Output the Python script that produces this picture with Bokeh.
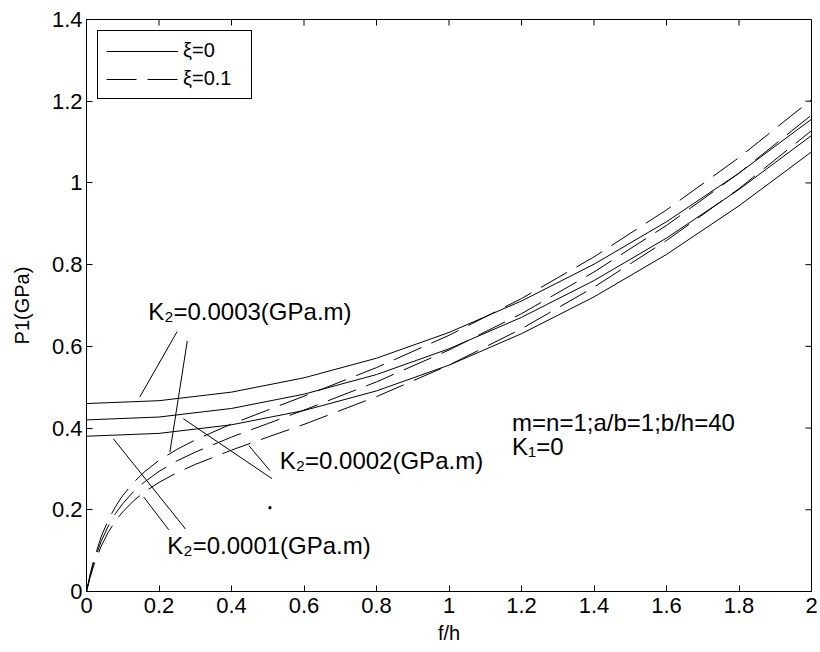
from bokeh.plotting import figure
from bokeh.models import Range1d, FixedTicker, Legend, LegendItem
from bokeh.core.properties import value
from bokeh.embed import file_html
from bokeh.resources import INLINE

# ---- data ----
x_ticks = [0, 0.2, 0.4, 0.6, 0.8, 1, 1.2, 1.4, 1.6, 1.8, 2]
x_tick_labels = ["0", "0.2", "0.4", "0.6", "0.8", "1", "1.2", "1.4", "1.6", "1.8", "2"]
y_ticks = [0, 0.2, 0.4, 0.6, 0.8, 1, 1.2, 1.4]
y_tick_labels = ["0", "0.2", "0.4", "0.6", "0.8", "1", "1.2", "1.4"]

# xi = 0 (solid)
x_solid = [0, 0.2, 0.4, 0.6, 0.8, 1.0, 1.2, 1.4, 1.6, 1.8, 2.0]
solid_k3 = [0.460, 0.467, 0.488, 0.523, 0.571, 0.634, 0.711, 0.801, 0.905, 1.024, 1.156]
solid_k2 = [0.420, 0.427, 0.448, 0.483, 0.531, 0.594, 0.671, 0.761, 0.865, 0.984, 1.116]
solid_k1 = [0.380, 0.387, 0.408, 0.443, 0.491, 0.554, 0.631, 0.721, 0.825, 0.944, 1.076]

# xi = 0.1 (dashed)
x_dashed = [0, 0.01, 0.02, 0.04, 0.06, 0.08, 0.1, 0.13, 0.16, 0.2, 0.25, 0.3,
            0.4, 0.5, 0.6, 0.8, 1.0, 1.2, 1.4, 1.6, 1.8, 2.0]
dashed_k3 = [0, 0.042, 0.077, 0.133, 0.175, 0.208, 0.235, 0.267, 0.293, 0.321, 0.348, 0.371,
             0.410, 0.444, 0.478, 0.548, 0.627, 0.717, 0.819, 0.934, 1.062, 1.204]
dashed_k2 = [0, 0.039, 0.071, 0.122, 0.160, 0.191, 0.215, 0.245, 0.268, 0.294, 0.320, 0.341,
             0.378, 0.411, 0.444, 0.513, 0.591, 0.680, 0.782, 0.896, 1.024, 1.166]
dashed_k1 = [0, 0.035, 0.064, 0.110, 0.145, 0.173, 0.195, 0.222, 0.244, 0.267, 0.291, 0.311,
             0.346, 0.378, 0.409, 0.477, 0.554, 0.643, 0.745, 0.859, 0.986, 1.128]

# annotations
note_text = ["K\u2082=0.0003(GPa.m)", "K\u2082=0.0002(GPa.m)", "K\u2082=0.0001(GPa.m)",
             "m=n=1;a/b=1;b/h=40", "K\u2081=0"]
note_x = [0.170, 0.533, 0.223, 1.174, 1.174]
note_y = [0.685, 0.321, 0.113, 0.414, 0.355]

lead_x0 = [0.147, 0.278, 0.267, 0.448, 0.074, 0.158]
lead_y0 = [0.476, 0.613, 0.423, 0.357, 0.374, 0.231]
lead_x1 = [0.250, 0.230, 0.512, 0.506, 0.273, 0.227]
lead_y1 = [0.636, 0.341, 0.276, 0.296, 0.153, 0.151]

stray_x = [0.506]
stray_y = [0.205]

X_MIN, X_MAX = 0, 2
Y_MIN, Y_MAX = 0, 1.4

FONT = "Liberation Sans"
DASH = "30 11"

p = figure(width=818, height=650, x_range=Range1d(X_MIN, X_MAX), y_range=Range1d(Y_MIN, Y_MAX),
           output_backend="svg", toolbar_location=None,
           min_border_left=86, min_border_right=7, min_border_top=19, min_border_bottom=59)
p.background_fill_color = "white"
p.border_fill_color = "white"
p.xgrid.visible = False
p.ygrid.visible = False
p.outline_line_color = "black"
p.outline_line_width = 1
p.outline_line_alpha = 1


def style_axis(ax, ticks, labels):
    ax.ticker = FixedTicker(ticks=ticks)
    ax.major_label_overrides = {t: l for t, l in zip(ticks, labels)}
    ax.major_tick_in = 6
    ax.major_tick_out = 0
    ax.minor_tick_line_color = None
    ax.axis_line_color = "black"
    ax.major_tick_line_color = "black"
    ax.major_label_text_font = FONT
    ax.major_label_text_color = "black"
    ax.major_label_text_font_size = "22px"
    ax.axis_label_text_font = FONT
    ax.axis_label_text_font_style = "normal"
    ax.axis_label_text_color = "black"
    ax.axis_label_text_font_size = "20px"


xax = p.xaxis[0]
style_axis(xax, x_ticks, x_tick_labels)
xax.axis_label = "f/h"
xax.major_label_standoff = 6
xax.axis_label_standoff = 6

yax = p.yaxis[0]
style_axis(yax, y_ticks, y_tick_labels)
yax.axis_label = "P1(GPa)"
yax.major_label_standoff = 4
yax.axis_label_standoff = 16

# inward ticks on the top and right edges of the box (MATLAB style)
tick_len_y = 0.0147 * (Y_MAX - Y_MIN) / 1.4
tick_len_x = 0.0166 * (X_MAX - X_MIN) / 2
p.segment(x0=x_ticks, y0=[Y_MAX] * len(x_ticks), x1=x_ticks, y1=[Y_MAX - tick_len_y] * len(x_ticks),
          line_color="black", line_width=1)
p.segment(x0=[X_MAX] * len(y_ticks), y0=y_ticks, x1=[X_MAX - tick_len_x] * len(y_ticks), y1=y_ticks,
          line_color="black", line_width=1)

# curves
s3 = p.line(x_solid, solid_k3, line_color="black", line_width=1)
p.line(x_solid, solid_k2, line_color="black", line_width=1)
p.line(x_solid, solid_k1, line_color="black", line_width=1)
d3 = p.line(x_dashed, dashed_k3, line_color="black", line_width=1, line_dash=DASH)
p.line(x_dashed, dashed_k2, line_color="black", line_width=1, line_dash=DASH)
p.line(x_dashed, dashed_k1, line_color="black", line_width=1, line_dash=DASH)

# leader lines and notes
p.segment(x0=lead_x0, y0=lead_y0, x1=lead_x1, y1=lead_y1, line_color="black", line_width=1)
p.scatter(stray_x, stray_y, marker="square", size=2, color="black")
p.text(x=note_x, y=note_y, text=note_text, text_font=value(FONT), text_font_size="24px",
       text_align="left", text_baseline="middle", text_color="black")

legend = Legend(items=[LegendItem(label="\u03be=0", renderers=[s3]),
                       LegendItem(label="\u03be=0.1", renderers=[d3])],
                location="top_left", margin=11, padding=8, spacing=5,
                glyph_width=72, glyph_height=20, label_width=60, label_height=20,
                label_standoff=5, label_text_font=FONT, label_text_font_size="20px",
                label_text_color="black", border_line_color="black", border_line_width=1,
                border_line_alpha=1, background_fill_color="white", background_fill_alpha=1)
p.add_layout(legend)

open("out.html", "w").write(file_html(p, INLINE))
